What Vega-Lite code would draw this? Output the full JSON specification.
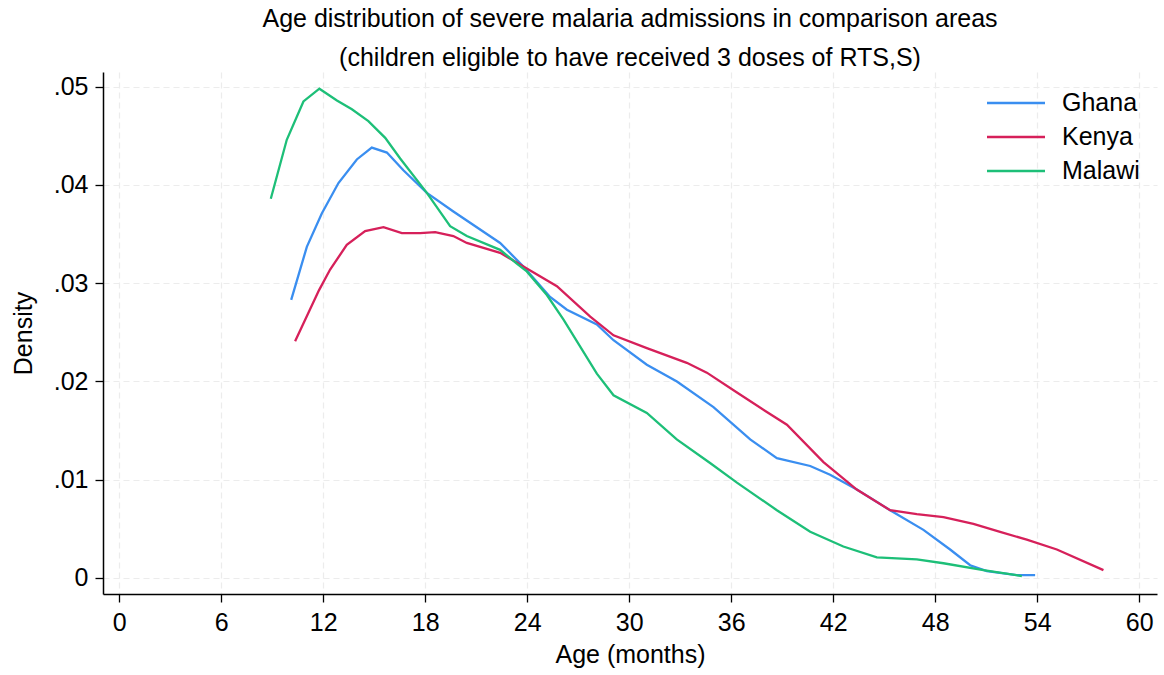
{
  "$schema": "https://vega.github.io/schema/vega-lite/v6.json",
  "width": 1054,
  "height": 522,
  "autosize": {"type": "none"},
  "padding": {"left": 103, "top": 72, "right": 7, "bottom": 81},
  "background": "white",
  "config": {
    "font": "Liberation Sans",
    "view": {"stroke": null},
    "axis": {"labelFont": "Liberation Sans", "titleFont": "Liberation Sans"},
    "legend": {"labelFont": "Liberation Sans"}
  },
  "title": {
    "text": ["Age distribution of severe malaria admissions in comparison areas", "(children eligible to have received 3 doses of RTS,S)"],
    "anchor": "middle",
    "frame": "group",
    "fontSize": 25,
    "fontWeight": "normal",
    "color": "#000000",
    "lineHeight": 39,
    "offset": 1,
    "font": "Liberation Sans"
  },
  "data": {
    "values": [
      {"country": "Ghana", "age": 10.12, "density": 0.0283},
      {"country": "Ghana", "age": 11.04, "density": 0.0337},
      {"country": "Ghana", "age": 11.92, "density": 0.0371},
      {"country": "Ghana", "age": 12.9, "density": 0.0402},
      {"country": "Ghana", "age": 13.98, "density": 0.0426},
      {"country": "Ghana", "age": 14.86, "density": 0.0438},
      {"country": "Ghana", "age": 15.75, "density": 0.0433},
      {"country": "Ghana", "age": 16.72, "density": 0.0415},
      {"country": "Ghana", "age": 18.1, "density": 0.0392},
      {"country": "Ghana", "age": 19.66, "density": 0.0373},
      {"country": "Ghana", "age": 22.41, "density": 0.0341},
      {"country": "Ghana", "age": 23.78, "density": 0.0317},
      {"country": "Ghana", "age": 25.35, "density": 0.0286},
      {"country": "Ghana", "age": 26.34, "density": 0.0273},
      {"country": "Ghana", "age": 28.1, "density": 0.0258},
      {"country": "Ghana", "age": 29.08, "density": 0.0242},
      {"country": "Ghana", "age": 31.04, "density": 0.0217},
      {"country": "Ghana", "age": 32.81, "density": 0.02},
      {"country": "Ghana", "age": 34.96, "density": 0.0174},
      {"country": "Ghana", "age": 37.12, "density": 0.0141},
      {"country": "Ghana", "age": 38.69, "density": 0.0122},
      {"country": "Ghana", "age": 40.65, "density": 0.0114},
      {"country": "Ghana", "age": 41.82, "density": 0.0105},
      {"country": "Ghana", "age": 43.39, "density": 0.009},
      {"country": "Ghana", "age": 45.35, "density": 0.0069},
      {"country": "Ghana", "age": 47.31, "density": 0.0049},
      {"country": "Ghana", "age": 48.88, "density": 0.0029},
      {"country": "Ghana", "age": 50.06, "density": 0.0013},
      {"country": "Ghana", "age": 51.04, "density": 0.0007},
      {"country": "Ghana", "age": 52.8, "density": 0.0003},
      {"country": "Ghana", "age": 53.88, "density": 0.0003},
      {"country": "Kenya", "age": 10.35, "density": 0.0241},
      {"country": "Kenya", "age": 11.76, "density": 0.0293},
      {"country": "Kenya", "age": 12.41, "density": 0.0314},
      {"country": "Kenya", "age": 13.39, "density": 0.0339},
      {"country": "Kenya", "age": 14.47, "density": 0.0353},
      {"country": "Kenya", "age": 15.55, "density": 0.0357},
      {"country": "Kenya", "age": 16.63, "density": 0.0351},
      {"country": "Kenya", "age": 17.71, "density": 0.0351},
      {"country": "Kenya", "age": 18.59, "density": 0.0352},
      {"country": "Kenya", "age": 19.66, "density": 0.0348},
      {"country": "Kenya", "age": 20.45, "density": 0.0341},
      {"country": "Kenya", "age": 22.41, "density": 0.0331},
      {"country": "Kenya", "age": 23.98, "density": 0.0315},
      {"country": "Kenya", "age": 25.75, "density": 0.0297},
      {"country": "Kenya", "age": 27.71, "density": 0.0266},
      {"country": "Kenya", "age": 29.08, "density": 0.0247},
      {"country": "Kenya", "age": 31.04, "density": 0.0234},
      {"country": "Kenya", "age": 33.39, "density": 0.0219},
      {"country": "Kenya", "age": 34.57, "density": 0.0209},
      {"country": "Kenya", "age": 36.14, "density": 0.0191},
      {"country": "Kenya", "age": 38.1, "density": 0.0169},
      {"country": "Kenya", "age": 39.28, "density": 0.0156},
      {"country": "Kenya", "age": 41.43, "density": 0.0118},
      {"country": "Kenya", "age": 43.39, "density": 0.009},
      {"country": "Kenya", "age": 45.35, "density": 0.0069},
      {"country": "Kenya", "age": 46.92, "density": 0.0065},
      {"country": "Kenya", "age": 48.49, "density": 0.0062},
      {"country": "Kenya", "age": 50.25, "density": 0.0055},
      {"country": "Kenya", "age": 51.82, "density": 0.0047},
      {"country": "Kenya", "age": 53.39, "density": 0.0039},
      {"country": "Kenya", "age": 55.16, "density": 0.0029},
      {"country": "Kenya", "age": 57.9, "density": 0.0008},
      {"country": "Malawi", "age": 8.92, "density": 0.0386},
      {"country": "Malawi", "age": 9.86, "density": 0.0446},
      {"country": "Malawi", "age": 10.84, "density": 0.0485},
      {"country": "Malawi", "age": 11.78, "density": 0.0498},
      {"country": "Malawi", "age": 12.81, "density": 0.0486},
      {"country": "Malawi", "age": 13.69, "density": 0.0477},
      {"country": "Malawi", "age": 14.66, "density": 0.0465},
      {"country": "Malawi", "age": 15.65, "density": 0.0448},
      {"country": "Malawi", "age": 16.53, "density": 0.0427},
      {"country": "Malawi", "age": 18.1, "density": 0.0392},
      {"country": "Malawi", "age": 19.47, "density": 0.0358},
      {"country": "Malawi", "age": 20.45, "density": 0.0348},
      {"country": "Malawi", "age": 22.41, "density": 0.0334},
      {"country": "Malawi", "age": 23.39, "density": 0.032},
      {"country": "Malawi", "age": 23.98, "density": 0.0312},
      {"country": "Malawi", "age": 25.16, "density": 0.0288},
      {"country": "Malawi", "age": 26.14, "density": 0.0263},
      {"country": "Malawi", "age": 28.1, "density": 0.0208},
      {"country": "Malawi", "age": 29.08, "density": 0.0186},
      {"country": "Malawi", "age": 31.04, "density": 0.0168},
      {"country": "Malawi", "age": 32.8, "density": 0.0141},
      {"country": "Malawi", "age": 34.76, "density": 0.0117},
      {"country": "Malawi", "age": 36.34, "density": 0.0097},
      {"country": "Malawi", "age": 38.69, "density": 0.0069},
      {"country": "Malawi", "age": 40.65, "density": 0.0047},
      {"country": "Malawi", "age": 42.6, "density": 0.0032},
      {"country": "Malawi", "age": 44.57, "density": 0.0021},
      {"country": "Malawi", "age": 46.92, "density": 0.0019},
      {"country": "Malawi", "age": 48.49, "density": 0.0015},
      {"country": "Malawi", "age": 50.84, "density": 0.0008},
      {"country": "Malawi", "age": 53.1, "density": 0.0002}
    ]
  },
  "mark": {"type": "line", "strokeWidth": 2.3},
  "encoding": {
    "x": {
      "field": "age",
      "type": "quantitative",
      "scale": {"domain": [-0.95, 61.05], "nice": false, "zero": false},
      "axis": {
        "title": "Age (months)",
        "values": [0, 6, 12, 18, 24, 30, 36, 42, 48, 54, 60],
        "labelFontSize": 25,
        "titleFontSize": 25,
        "titleFontWeight": "normal",
        "labelColor": "#000000",
        "titleColor": "#000000",
        "domainColor": "#000000",
        "domainWidth": 1.5,
        "tickColor": "#000000",
        "tickSize": 8,
        "tickWidth": 1.3,
        "labelPadding": 8,
        "titlePadding": 7,
        "grid": true,
        "gridColor": "#ececec",
        "gridDash": [6, 4],
        "gridWidth": 1.2,
        "labelFlush": false
      }
    },
    "y": {
      "field": "density",
      "type": "quantitative",
      "scale": {"domain": [-0.00163, 0.0515], "nice": false, "zero": false},
      "axis": {
        "title": "Density",
        "values": [0, 0.01, 0.02, 0.03, 0.04, 0.05],
        "labelExpr": "datum.value === 0 ? '0' : slice(format(datum.value, '.2f'), 1)",
        "labelFontSize": 25,
        "titleFontSize": 25,
        "titleFontWeight": "normal",
        "labelColor": "#000000",
        "titleColor": "#000000",
        "domainColor": "#000000",
        "domainWidth": 1.5,
        "tickColor": "#000000",
        "tickSize": 8,
        "tickWidth": 1.3,
        "labelPadding": 7,
        "titlePadding": 17,
        "grid": true,
        "gridColor": "#ececec",
        "gridDash": [6, 4],
        "gridWidth": 1.2,
        "labelFlush": false
      }
    },
    "color": {
      "field": "country",
      "type": "nominal",
      "scale": {"domain": ["Ghana", "Kenya", "Malawi"], "range": ["#3a8ef0", "#d6205a", "#1dbf78"]},
      "legend": {
        "title": null,
        "orient": "none",
        "legendX": 897,
        "legendY": 15,
        "symbolType": "M-2,0H2",
        "symbolSize": 841,
        "symbolStrokeWidth": 2.3,
        "symbolFillColor": "transparent",
        "labelFontSize": 25,
        "labelColor": "#000000",
        "labelOffset": 30,
        "rowPadding": 5,
        "padding": 0
      }
    }
  }
}
